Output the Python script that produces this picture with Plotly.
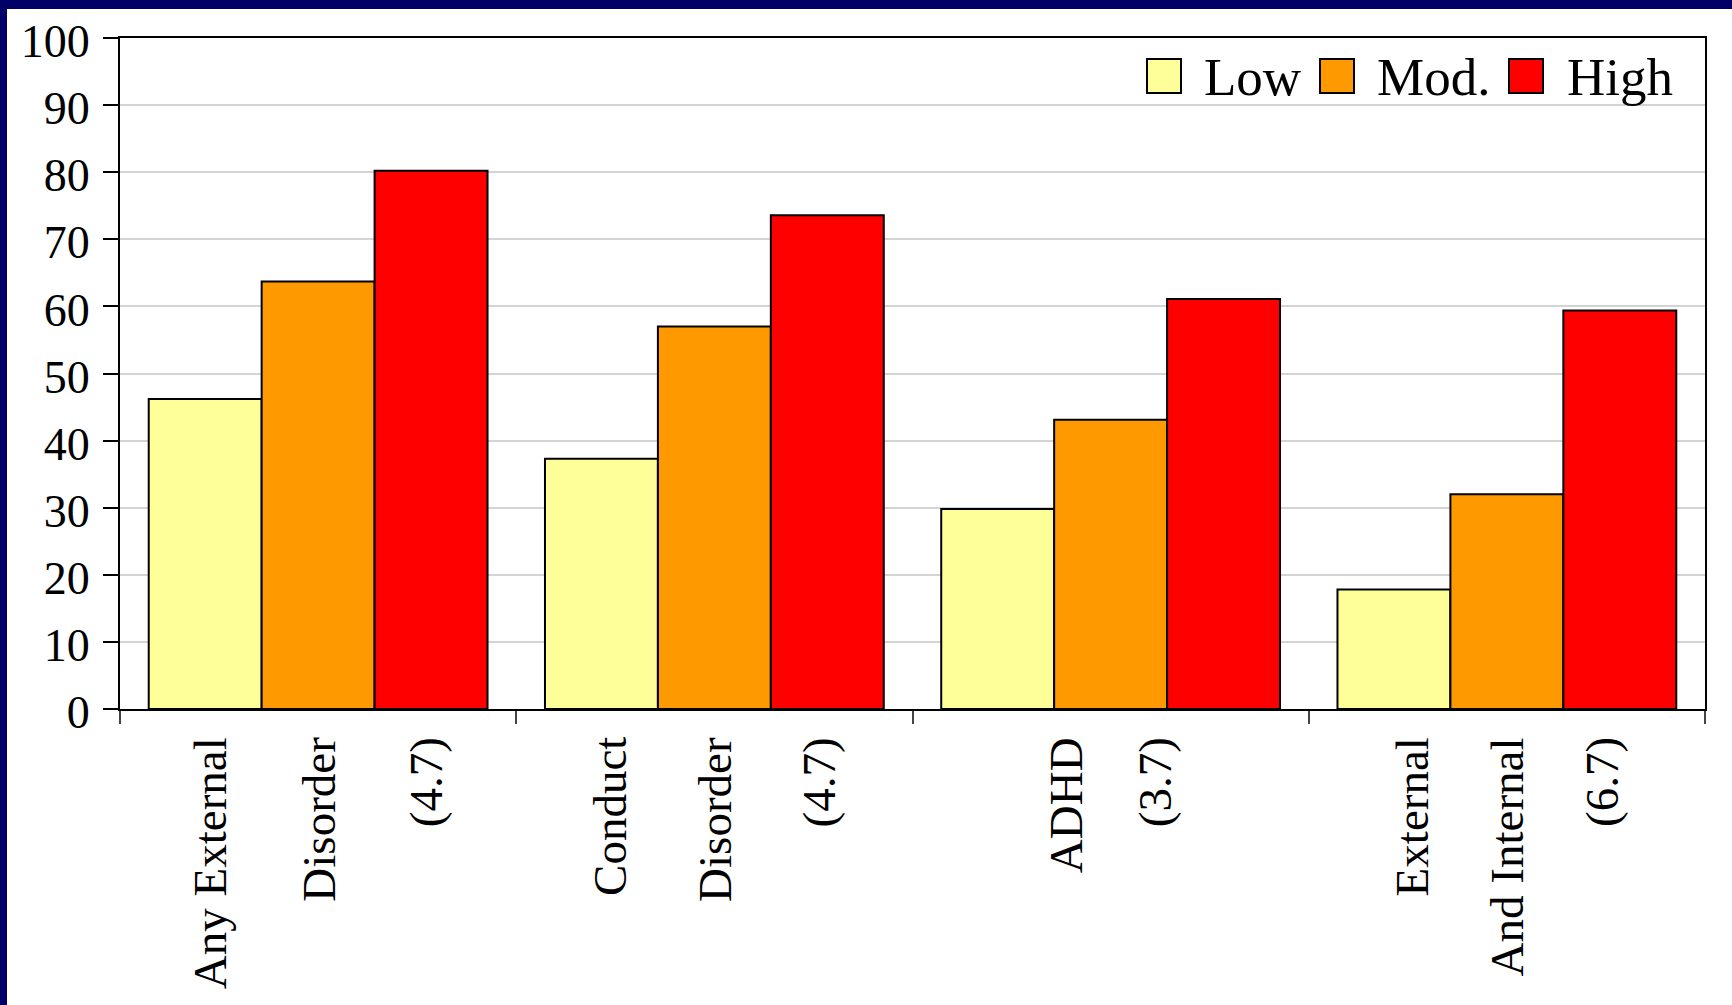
import plotly.graph_objects as go

# ---- data ----
categories = ["Any External Disorder (4.7)", "Conduct Disorder (4.7)", "ADHD (3.7)", "External And Internal (6.7)"]
label_lines = [
    ["Any External", "Disorder", "(4.7)"],
    ["Conduct", "Disorder", "(4.7)"],
    ["ADHD", "(3.7)"],
    ["External", "And Internal", "(6.7)"],
]
series_names = ["Low", "Mod.", "High"]
low_values = [46.2, 37.3, 29.8, 17.8]
mod_values = [63.7, 57.0, 43.1, 32.0]
high_values = [80.2, 73.6, 61.1, 59.4]
y_ticks = [0, 10, 20, 30, 40, 50, 60, 70, 80, 90, 100]

# ---- style ----
colors = ["#FFFF99", "#FF9900", "#FF0000"]
FONT = "Liberation Serif, Times New Roman, serif"
W, H = 1732, 1005
L, R, T, B = 120, 27, 38, 296
PW, PH = W - L - R, H - T - B
label_spacing = [108, 105, 89, 95]


def px_x(px):
    return (px - L) / PW


def px_y(py):
    return (H - B - py) / PH


fig = go.Figure()
for name, vals, col in zip(series_names, [low_values, mod_values, high_values], colors):
    fig.add_trace(go.Bar(
        x=categories, y=vals, name=name,
        marker=dict(color=col, line=dict(color="black", width=2)),
        showlegend=False,
    ))

shapes = [
    # navy frame strips
    dict(type="rect", xref="paper", yref="paper", x0=px_x(-5), x1=px_x(W + 5), y0=px_y(9), y1=px_y(-5),
         fillcolor="#000066", line=dict(width=0), layer="below"),
    dict(type="rect", xref="paper", yref="paper", x0=px_x(-5), x1=px_x(7), y0=px_y(H + 5), y1=px_y(-5),
         fillcolor="#000066", line=dict(width=0), layer="below"),
]
annotations = []

# manual legend
legend_items = [(1147, 1202), (1320, 1375), (1509, 1565)]
for (bx, tx), name, col in zip(legend_items, series_names, colors):
    shapes.append(dict(type="rect", xref="paper", yref="paper",
                       x0=px_x(bx), x1=px_x(bx + 34), y0=px_y(93), y1=px_y(59),
                       fillcolor=col, line=dict(color="black", width=2)))
    annotations.append(dict(xref="paper", yref="paper", x=px_x(tx), y=px_y(77),
                            xanchor="left", yanchor="middle", text=name, showarrow=False,
                            font=dict(family=FONT, size=53, color="black")))

# category labels (rotated lines)
for i, (cat, lines) in enumerate(zip(categories, label_lines)):
    n = len(lines)
    for j, line in enumerate(lines):
        annotations.append(dict(
            x=cat, xref="x", y=0, yref="paper", yshift=-26,
            xshift=(j - (n - 1) / 2) * label_spacing[i],
            text=line, textangle=-90, showarrow=False,
            xanchor="center", yanchor="top",
            font=dict(family=FONT, size=47, color="black"),
        ))

fig.update_layout(
    width=W, height=H,
    margin=dict(l=L, r=R, t=T, b=B, autoexpand=False),
    paper_bgcolor="white", plot_bgcolor="white",
    barmode="group", bargap=0.145, bargroupgap=0,
    font=dict(family=FONT, color="black"),
    shapes=shapes, annotations=annotations,
    showlegend=False,
)
fig.update_yaxes(
    range=[0, 100], tickvals=y_ticks, ticks="outside", ticklen=15, tickwidth=1.5, tickcolor="black",
    showline=True, linecolor="black", linewidth=2, mirror=True,
    showgrid=True, gridcolor="#D4D4D4", gridwidth=1.5,
    tickfont=dict(family=FONT, size=46, color="black"), ticklabelstandoff=4, ticklabelshift=3,
    zeroline=False, fixedrange=True,
)
fig.update_xaxes(
    showticklabels=False, ticks="outside", tickson="boundaries", ticklen=13, tickwidth=1.5, tickcolor="#444",
    showline=True, linecolor="black", linewidth=2, mirror=True, showgrid=False,
)

fig.write_html("out.html")
